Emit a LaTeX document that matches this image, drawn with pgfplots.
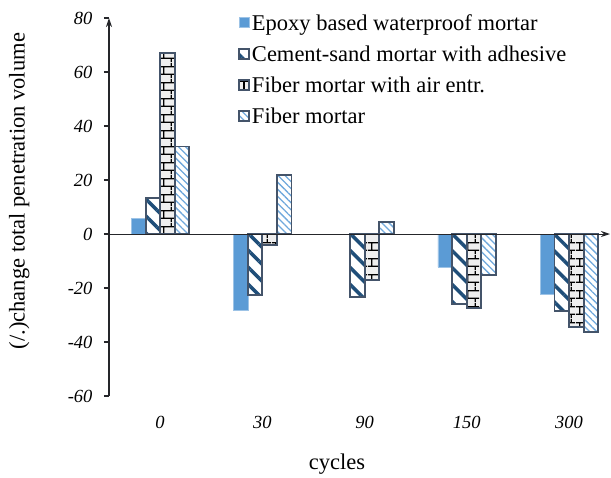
\documentclass[border=0pt]{standalone}
\usepackage{fontspec}
\setmainfont{Liberation Serif}
\usepackage{pgfplots}
\pgfplotsset{compat=1.18}
\usetikzlibrary{patterns, patterns.meta, arrows.meta}
\definecolor{epdark}{HTML}{5B9BD5}
\definecolor{eplight}{HTML}{CFE2F5}
\definecolor{barline}{HTML}{44546A}
\definecolor{stripe}{HTML}{1F4E79}
\definecolor{fibstripe}{HTML}{6FA8DC}
\definecolor{brickfill}{HTML}{EFEFEF}
\definecolor{axisgray}{HTML}{25262A}

% brick pattern for the air-entrained fiber mortar
\pgfdeclarepatternformonly{fbricks}{\pgfpointorigin}{\pgfpoint{16pt}{16pt}}{\pgfpoint{16pt}{16pt}}{
  \pgfsetlinewidth{1.4pt}
  \pgfpathmoveto{\pgfpoint{0pt}{4pt}}\pgfpathlineto{\pgfpoint{16pt}{4pt}}
  \pgfpathmoveto{\pgfpoint{0pt}{12pt}}\pgfpathlineto{\pgfpoint{16pt}{12pt}}
  \pgfpathmoveto{\pgfpoint{4pt}{4pt}}\pgfpathlineto{\pgfpoint{4pt}{12pt}}
  \pgfpathmoveto{\pgfpoint{12pt}{12pt}}\pgfpathlineto{\pgfpoint{12pt}{16pt}}
  \pgfpathmoveto{\pgfpoint{12pt}{0pt}}\pgfpathlineto{\pgfpoint{12pt}{4pt}}
  \pgfusepath{stroke}}

\begin{document}
\begin{tikzpicture}
\begin{axis}[
  scale only axis,
  width=501pt, height=378pt,
  xmin=-0.5, xmax=4.4,
  ymin=-60, ymax=80,
  clip=false,
  ybar=0pt,
  bar width=0.142,
  legend image code/.code={\draw[#1] (0pt,-5pt) rectangle (10pt,5pt);},
  axis y line=left,
  axis x line=bottom,
  x axis line style={draw=none},
  y axis line style={-{Stealth[length=9pt,width=6pt]}, line width=1.5pt, color=axisgray},
  xtick={0,1,2,3,4},
  xticklabels={0,30,90,150,300},
  xtick style={draw=none},
  ytick={-60,-40,-20,0,20,40,60,80},
  ytick style={line width=1.5pt, color=axisgray},
  tick align=outside,
  major tick length=5pt,
  /pgf/number format/assume math mode=true,
  ticklabel style={font=\fontsize{18.5}{20}\selectfont\itshape},
  xticklabel style={yshift=-12pt},
  yticklabel style={xshift=-8pt},
  xlabel={cycles},
  xlabel style={font=\fontsize{22.5}{24}\selectfont, at={(axis cs:1.73,-60)}, anchor=north, yshift=-54pt},
  ylabel={(/.)change total penetration volume},
  ylabel style={font=\fontsize{22.5}{24}\selectfont, at={(rel axis cs:0,0.542)}, anchor=south, yshift=76pt},
  legend style={at={(axis cs:-0.5,80)}, anchor=north west, xshift=126pt, yshift=9pt,
    draw=none, fill=none, font=\fontsize{22.5}{24}\selectfont, row sep=9pt},
  legend cell align=left,
]
\addplot[draw=epdark!60, line width=0.6pt, top color=epdark, middle color=eplight, bottom color=epdark]
  coordinates {(0,5.7) (1,-28.4) (3,-12.3) (4,-22.2)};
\addplot[draw=barline, line width=1.8pt, fill=white, pattern={Lines[angle=-45,distance=12pt,line width=3.5pt]}, pattern color=stripe]
  coordinates {(0,13.3) (1,-22.6) (2,-23.2) (3,-25.9) (4,-28.5)};
\addplot[draw=barline, line width=1.8pt, preaction={fill=brickfill}, pattern=fbricks, pattern color=black]
  coordinates {(0,67) (1,-4.1) (2,-17) (3,-27.3) (4,-34.3)};
\addplot[draw=barline, line width=1.8pt, pattern={Lines[angle=-45,distance=5pt,line width=1.3pt]}, pattern color=fibstripe]
  coordinates {(0,32.4) (1,21.9) (2,4.3) (3,-15.2) (4,-36.4)};
\legend{Epoxy based waterproof mortar\strut, Cement-sand mortar with adhesive\strut, Fiber mortar with air entr.\strut, Fiber mortar\strut}
\draw[line width=1pt, color=axisgray, -{Stealth[length=9pt,width=6pt]}] (axis cs:-0.5,0) -- (axis cs:4.4,0);
\draw[line width=3pt, white] (axis cs:-0.6,-60) -- (axis cs:-0.6,80);
\coordinate (ll) at (rel axis cs:0,0);
\coordinate (ur) at (rel axis cs:1,1);
\end{axis}
\path (ll) ++(-109pt,-79pt);
\path (ur) ++(1pt,18pt);
\end{tikzpicture}
\end{document}
